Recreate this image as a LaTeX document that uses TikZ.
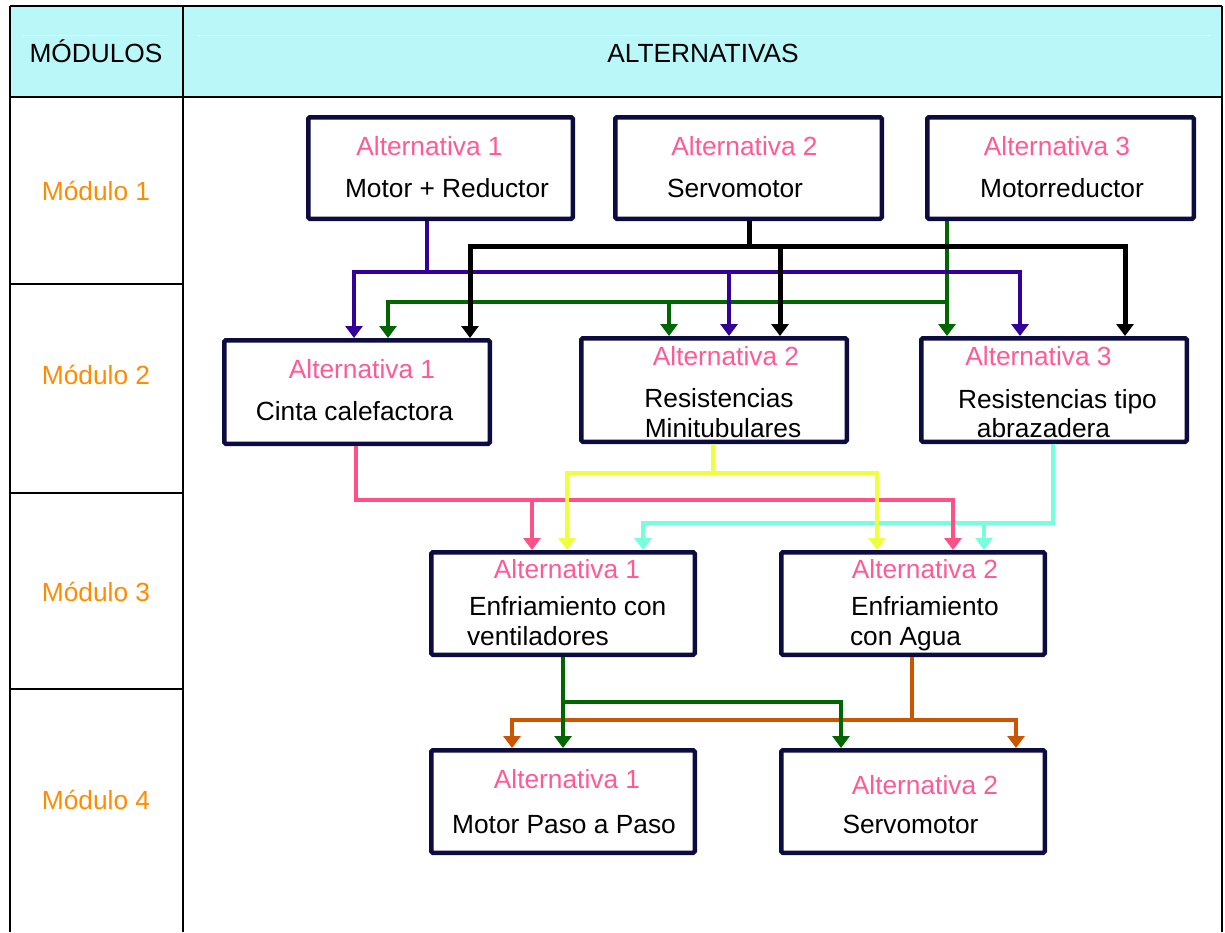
\documentclass[tikz,border=0pt]{standalone}
\usepackage{fontspec}
\setmainfont{Liberation Sans}
\usetikzlibrary{arrows.meta}
\definecolor{hdrfill}{RGB}{185,247,249}
\definecolor{hdrline}{RGB}{222,252,252}
\definecolor{boxc}{RGB}{12,12,64}
\definecolor{altc}{RGB}{255,90,150}
\definecolor{modc}{RGB}{255,140,0}
\definecolor{cpurp}{RGB}{51,0,153}
\definecolor{cgreen}{RGB}{0,102,0}
\definecolor{cpink}{RGB}{255,80,136}
\definecolor{cyel}{RGB}{238,255,64}
\definecolor{ccyan}{RGB}{119,255,221}
\definecolor{corange}{RGB}{204,85,0}
\newcommand\txtsize{\fontsize{26.3}{30}\selectfont}
\begin{document}
\begin{tikzpicture}[x=1pt,y=-1pt,
  every node/.style={inner sep=0pt, outer sep=0pt},
  grid/.style={line width=2pt, draw=black},
  box/.style={draw=boxc, fill=white, line width=4.5pt, rounded corners=1.5pt, outer sep=2.25pt},
  alt/.style={text=altc, font=\txtsize, anchor=base},
  lbl/.style={text=black, font=\txtsize, anchor=base},
  lbll/.style={text=black, font=\txtsize, anchor=base west},
  modl/.style={text=modc, font=\txtsize, anchor=base},
  hdr/.style={text=black, font=\txtsize, anchor=base},
  conn/.style={line width=4.3pt, line join=miter},
  tip/.style={conn, -{Triangle[width=17pt,length=12pt]}},
  bothtip/.style={conn, {Triangle[width=17pt,length=12pt]}-{Triangle[width=17pt,length=12pt]}}
]
\useasboundingbox (0,0) rectangle (1225,932);

% ---------- table ----------
\fill[hdrfill] (10,6) rectangle (1222,97);
\draw[hdrline, line width=0.8pt] (23,35) -- (168,35);
\draw[hdrline, line width=0.8pt] (197,35) -- (1210,35);
\draw[grid] (10,6) -- (1222,6);
\draw[grid] (10,97) -- (1222,97);
\draw[grid] (10,6) -- (10,932);
\draw[grid] (183,6) -- (183,932);
\draw[grid] (1222,6) -- (1222,932);
\draw[grid] (10,284) -- (183,284);
\draw[grid] (10,493) -- (183,493);
\draw[grid] (10,689) -- (183,689);

\node[hdr] (hmod) at (96,62) {MÓDULOS};
\node[hdr] (halt) at (703,62) {ALTERNATIVAS};
\node[modl] (m1) at (96,200) {Módulo 1};
\node[modl] (m2) at (96,384) {Módulo 2};
\node[modl] (m3) at (96,601) {Módulo 3};
\node[modl] (m4) at (96,809) {Módulo 4};

% ---------- boxes ----------
\node[box, minimum width=264.5pt, minimum height=101.5pt] (a1) at (440.5,168) {};
\node[box, minimum width=266.5pt, minimum height=101.5pt] (a2) at (748.5,168) {};
\node[box, minimum width=266.5pt, minimum height=101.5pt] (a3) at (1060.5,168) {};
\node[box, minimum width=265.5pt, minimum height=103.5pt] (b1) at (357,392) {};
\node[box, minimum width=265.5pt, minimum height=103.5pt] (b2) at (714,390) {};
\node[box, minimum width=265.5pt, minimum height=103.5pt] (b3) at (1054,390) {};
\node[box, minimum width=263.5pt, minimum height=102.5pt] (c1) at (563,603.5) {};
\node[box, minimum width=263.5pt, minimum height=102.5pt] (c2) at (913,603.5) {};
\node[box, minimum width=263.5pt, minimum height=102.5pt] (d1) at (563,801.5) {};
\node[box, minimum width=263.5pt, minimum height=102.5pt] (d2) at (913,801.5) {};

% ---------- box texts ----------
\node[alt] (a1t) at (429.5,155) {Alternativa 1};
\node[lbl] (a1l) at (447,197) {Motor + Reductor};
\node[alt] (a2t) at (744.5,155) {Alternativa 2};
\node[lbl] (a2l) at (735,197) {Servomotor};
\node[alt] (a3t) at (1057,155) {Alternativa 3};
\node[lbl] (a3l) at (1062,197) {Motorreductor};

\node[alt] (b1t) at (362,378) {Alternativa 1};
\node[lbl] (b1l) at (354.5,420) {Cinta calefactora};
\node[alt] (b2t) at (726,365) {Alternativa 2};
\node[lbl] (b2l) at (719,407) {Resistencias};
\node[lbl] (b2m) at (723,437) {Minitubulares};
\node[alt] (b3t) at (1038.5,365) {Alternativa 3};
\node[lbl] (b3l) at (1057.5,408) {Resistencias tipo};
\node[lbl] (b3m) at (1043.5,437) {abrazadera};

\node[alt] (c1t) at (567,578) {Alternativa 1};
\node[lbll] (c1l) at (469,615) {Enfriamiento con};
\node[lbll] (c1m) at (467,645) {ventiladores};
\node[alt] (c2t) at (925,578) {Alternativa 2};
\node[lbll] (c2l) at (851,615) {Enfriamiento};
\node[lbll] (c2m) at (850,645) {con Agua};

\node[alt] (d1t) at (567,788) {Alternativa 1};
\node[lbl] (d1l) at (564,833) {Motor Paso a Paso};
\node[alt] (d2t) at (925,794) {Alternativa 2};
\node[lbl] (d2l) at (910.5,833) {Servomotor};

% ---------- guide coordinates ----------
\foreach \xx in {354,388,427,470,512,532,563,567,643,669,713,729,749,780,841,877,912,947,953,984,1016,1020,1053,1125,356}
  \coordinate (x\xx) at (\xx,0);
\coordinate (yBk) at (0,246);
\coordinate (yPu) at (0,272);
\coordinate (yGr) at (0,302);
\coordinate (yYe) at (0,473);
\coordinate (yPk) at (0,500);
\coordinate (yCy) at (0,523);
\coordinate (yG2) at (0,702);
\coordinate (yOr) at (0,720);

% ---------- module 1 -> module 2 ----------
% green (from Alternativa 3)
\draw[tip, cgreen] (a3.south -| x947) -- (x947 |- b3.north);
\draw[tip, cgreen] (x947 |- yGr) -- (x388 |- yGr) -- (x388 |- b1.north);
\draw[tip, cgreen] (x669 |- yGr) -- (x669 |- b2.north);
% purple (from Alternativa 1)
\draw[conn, cpurp] (a1.south -| x427) -- (x427 |- yPu);
\draw[bothtip, cpurp] (x354 |- b1.north) -- (x354 |- yPu) -- (x1020 |- yPu) -- (x1020 |- b3.north);
\draw[tip, cpurp] (x729 |- yPu) -- (x729 |- b2.north);
% black (from Alternativa 2)
\draw[conn, black, line width=5pt] (a2.south -| x749) -- (x749 |- yBk);
\draw[bothtip, black, line width=5pt] (x470 |- b1.north) -- (x470 |- yBk) -- (x1125 |- yBk) -- (x1125 |- b3.north);
\draw[tip, black, line width=5pt] (x780 |- yBk) -- (x780 |- b2.north);

% ---------- module 2 -> module 3 ----------
% cyan (from Alternativa 3)
\draw[tip, ccyan] (b3.south -| x1053) -- (x1053 |- yCy) -- (x643 |- yCy) -- (x643 |- c1.north);
\draw[tip, ccyan] (x984 |- yCy) -- (x984 |- c2.north);
% pink (from Alternativa 1)
\draw[tip, cpink] (b1.south -| x356) -- (x356 |- yPk) -- (x953 |- yPk) -- (x953 |- c2.north);
\draw[tip, cpink] (x532 |- yPk) -- (x532 |- c1.north);
% yellow (from Alternativa 2)
\draw[conn, cyel] (b2.south -| x713) -- (x713 |- yYe);
\draw[bothtip, cyel] (x567 |- c1.north) -- (x567 |- yYe) -- (x877 |- yYe) -- (x877 |- c2.north);

% ---------- module 3 -> module 4 ----------
% orange (from Alternativa 2)
\draw[conn, corange] (c2.south -| x912) -- (x912 |- yOr);
\draw[bothtip, corange] (x512 |- d1.north) -- (x512 |- yOr) -- (x1016 |- yOr) -- (x1016 |- d2.north);
% green (from Alternativa 1)
\draw[tip, cgreen] (c1.south -| x563) -- (x563 |- d1.north);
\draw[tip, cgreen] (x563 |- yG2) -- (x841 |- yG2) -- (x841 |- d2.north);
\end{tikzpicture}
\end{document}
